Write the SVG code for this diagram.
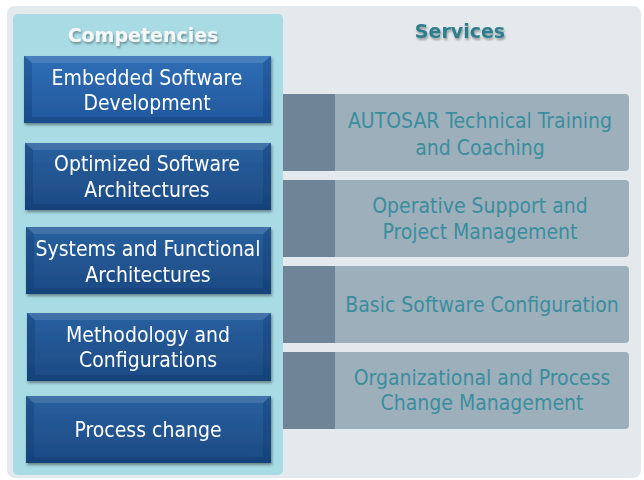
<svg xmlns="http://www.w3.org/2000/svg" width="644" height="480" viewBox="0 0 644 480">
<style>
.ct{font-family:"DejaVu Sans Condensed","DejaVu Sans","Liberation Sans",sans-serif;font-stretch:condensed;font-size:21px;fill:#ffffff;text-anchor:middle}
.st{font-family:"DejaVu Sans Condensed","DejaVu Sans","Liberation Sans",sans-serif;font-stretch:condensed;font-size:21px;fill:#3a8e9c;text-anchor:middle}
.ttl{font-family:"DejaVu Sans","Liberation Sans",sans-serif;font-size:19px;font-weight:bold;text-anchor:middle}
.dk{fill:#6f8496}
.lt{fill:#9eafbc}
.bt{fill:#ffffff;opacity:0.12}
.bs{fill:#0a2a55;opacity:0.22}
</style>
<defs>
<linearGradient id="bg" x1="0" y1="0" x2="0" y2="1">
<stop offset="0" stop-color="#28609f"/>
<stop offset="1" stop-color="#1c4a84"/>
</linearGradient>
<linearGradient id="bg1" x1="0" y1="0" x2="0" y2="1">
<stop offset="0" stop-color="#2f6fb6"/>
<stop offset="1" stop-color="#22579c"/>
</linearGradient>
<filter id="sh" x="-10%" y="-10%" width="120%" height="130%">
<feGaussianBlur in="SourceAlpha" stdDeviation="1.5"/>
<feOffset dx="1" dy="2"/>
<feComponentTransfer><feFuncA type="linear" slope="0.4"/></feComponentTransfer>
<feMerge><feMergeNode/><feMergeNode in="SourceGraphic"/></feMerge>
</filter>
<filter id="ts" x="-10%" y="-30%" width="120%" height="160%">
<feGaussianBlur in="SourceAlpha" stdDeviation="1"/>
<feOffset dx="1" dy="2"/>
<feComponentTransfer><feFuncA type="linear" slope="0.35"/></feComponentTransfer>
<feMerge><feMergeNode/><feMergeNode in="SourceGraphic"/></feMerge>
</filter>
</defs>
<rect x="0" y="0" width="644" height="480" fill="#ffffff"/>
<rect x="7" y="6" width="634" height="472" rx="8" fill="#e3e9ec"/>

<g id="services">
<text class="ttl" x="460" y="38" fill="#2f7d8c" filter="url(#ts)">Services</text>
<g id="s1">
<rect x="280" y="94" width="349" height="77" rx="4" class="lt"/>
<rect x="280" y="94" width="55" height="77" class="dk"/>
<text class="st" x="480" y="128">AUTOSAR Technical Training</text>
<text class="st" x="480" y="155">and Coaching</text>
</g>
<g id="s2">
<rect x="280" y="180" width="349" height="77" rx="4" class="lt"/>
<rect x="280" y="180" width="55" height="77" class="dk"/>
<text class="st" x="480" y="213">Operative Support and</text>
<text class="st" x="480" y="239">Project Management</text>
</g>
<g id="s3">
<rect x="280" y="266" width="349" height="77" rx="4" class="lt"/>
<rect x="280" y="266" width="55" height="77" class="dk"/>
<text class="st" x="482" y="312">Basic Software Configuration</text>
</g>
<g id="s4">
<rect x="280" y="352" width="349" height="77" rx="4" class="lt"/>
<rect x="280" y="352" width="55" height="77" class="dk"/>
<text class="st" x="482" y="385">Organizational and Process</text>
<text class="st" x="482" y="410">Change Management</text>
</g>
</g>

<g id="competencies">
<rect x="13" y="14" width="270" height="461" rx="5" fill="#a8dbe3"/>
<text class="ttl" x="143" y="42" fill="#f4f8f8" filter="url(#ts)">Competencies</text>
<g id="c1" filter="url(#sh)">
<rect x="24" y="56" width="247" height="67" fill="url(#bg1)"/>
<polygon points="24,56 271,56 263,63 32,63" class="bt"/>
<polygon points="24,123 271,123 263,117 32,117" class="bs"/>
<polygon points="24,56 32,63 32,117 24,123" class="bs"/>
<polygon points="271,56 263,63 263,117 271,123" class="bs"/>
<text class="ct" x="147" y="85">Embedded Software</text>
<text class="ct" x="147" y="110">Development</text>
</g>
<g id="c2" filter="url(#sh)">
<rect x="25" y="143" width="246" height="67" fill="url(#bg)"/>
<polygon points="25,143 271,143 263,150 33,150" class="bt"/>
<polygon points="25,210 271,210 263,204 33,204" class="bs"/>
<polygon points="25,143 33,150 33,204 25,210" class="bs"/>
<polygon points="271,143 263,150 263,204 271,210" class="bs"/>
<text class="ct" x="147" y="171">Optimized Software</text>
<text class="ct" x="147" y="197">Architectures</text>
</g>
<g id="c3" filter="url(#sh)">
<rect x="26" y="227" width="245" height="67" fill="url(#bg)"/>
<polygon points="26,227 271,227 263,234 34,234" class="bt"/>
<polygon points="26,294 271,294 263,288 34,288" class="bs"/>
<polygon points="26,227 34,234 34,288 26,294" class="bs"/>
<polygon points="271,227 263,234 263,288 271,294" class="bs"/>
<text class="ct" x="148" y="256">Systems and Functional</text>
<text class="ct" x="148" y="282">Architectures</text>
</g>
<g id="c4" filter="url(#sh)">
<rect x="27" y="313" width="244" height="68" fill="url(#bg)"/>
<polygon points="27,313 271,313 263,320 35,320" class="bt"/>
<polygon points="27,381 271,381 263,375 35,375" class="bs"/>
<polygon points="27,313 35,320 35,375 27,381" class="bs"/>
<polygon points="271,313 263,320 263,375 271,381" class="bs"/>
<text class="ct" x="148" y="342">Methodology and</text>
<text class="ct" x="148" y="367">Configurations</text>
</g>
<g id="c5" filter="url(#sh)">
<rect x="26" y="396" width="245" height="67" fill="url(#bg)"/>
<polygon points="26,396 271,396 263,403 34,403" class="bt"/>
<polygon points="26,463 271,463 263,457 34,457" class="bs"/>
<polygon points="26,396 34,403 34,457 26,463" class="bs"/>
<polygon points="271,396 263,403 263,457 271,463" class="bs"/>
<text class="ct" x="148" y="437">Process change</text>
</g>
</g>
<g id="connectors"/>
</svg>
